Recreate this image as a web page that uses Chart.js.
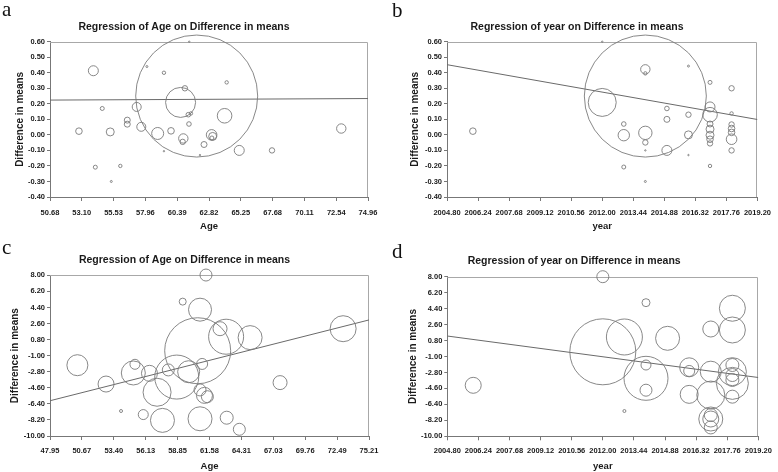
<!DOCTYPE html>
<html>
<head>
<meta charset="utf-8">
<script src="https://cdn.jsdelivr.net/npm/chart.js@4.4.1/dist/chart.umd.min.js"></script>
<style>
  html, body { margin:0; padding:0; background:#fff; }
  #wrap { position:relative; width:778px; height:472px; overflow:hidden; background:#fff; }
  canvas { position:absolute; }
  .lbl { position:absolute; font-family:"Liberation Serif","DejaVu Serif",serif; font-size:21px; line-height:21px; color:#111; }
</style>
</head>
<body>
<div id="wrap">
  <canvas id="ca" width="389" height="236" style="left:0;top:0"></canvas>
  <canvas id="cb" width="388" height="236" style="left:390px;top:0"></canvas>
  <canvas id="cc" width="389" height="236" style="left:0;top:236px"></canvas>
  <canvas id="cd" width="388" height="236" style="left:390px;top:236px"></canvas>
  <div class="lbl" style="left:2px;top:-1px">a</div>
  <div class="lbl" style="left:392px;top:0px">b</div>
  <div class="lbl" style="left:2px;top:237px">c</div>
  <div class="lbl" style="left:392px;top:241px">d</div>
</div>
<script>
// ---------- Data ----------
// Panel a: age vs difference in means (small scale)
const ageA  = [52.89, 53.99, 54.67, 54.14, 55.28, 55.36, 56.05, 56.58, 56.58, 57.30, 57.65, 58.08, 58.90, 59.38, 59.38, 59.92, 60.65, 61.88, 60.98, 61.31, 61.24, 61.44, 61.29, 60.86, 60.81, 62.13, 62.44, 63.02, 63.04, 63.10, 64.17, 64.01, 65.13, 67.63, 72.92];
const diffA = [0.024, 0.413, 0.17, -0.208, 0.019, -0.30, -0.20, 0.095, 0.069, 0.18, 0.052, 0.44, 0.009, 0.40, -0.105, 0.026, 0.209, 0.25, 0.30, 0.60, 0.13, 0.138, 0.07, -0.023, -0.045, -0.13, -0.062, 0.0, -0.02, -0.01, 0.338, 0.123, -0.10, -0.10, 0.041];
const wtA   = [3.3, 5, 2, 2, 4, 1, 1.7, 3, 3, 4.5, 4.5, 1, 6, 1.7, 0.7, 3.3, 15, 61, 2.7, 0.7, 2.3, 1.7, 2.3, 4.7, 2.7, 0.7, 3, 5.3, 2, 4, 1.7, 7.3, 5, 2.7, 4.7];
const regA  = [0.224, 0.234];

// Panel b: year vs difference in means (small scale)
const yearB = [2006, 2012, 2012, 2014, 2013, 2013, 2013, 2014, 2014, 2014, 2014, 2014, 2014, 2015, 2015, 2015, 2016, 2016, 2016, 2016, 2017, 2017, 2017, 2017, 2017, 2017, 2017, 2017, 2017, 2018, 2018, 2018, 2018, 2018, 2018, 2018];
const diffB = [0.024, 0.209, 0.60, 0.25, 0.07, -0.002, -0.207, 0.422, 0.396, 0.013, -0.049, -0.10, -0.30, 0.17, 0.10, -0.10, 0.443, 0.13, 0.0, -0.13, 0.338, 0.18, 0.13, 0.07, 0.037, -0.002, -0.028, -0.055, -0.20, 0.30, 0.138, 0.067, 0.041, 0.016, -0.028, -0.10];
const wtB   = [3.3, 14, 0.7, 61, 2.3, 5.7, 2, 4.7, 1.7, 6.7, 2.7, 0.7, 1, 2.3, 3, 5, 1, 2.7, 4, 0.7, 2, 5, 7.3, 3, 4, 4, 3.3, 2.7, 1.7, 2.7, 1.7, 2.7, 3.3, 3.3, 5.3, 2.7];
const regB  = [0.452, 0.099];

// Panel c: age vs difference in means (large scale)
const ageC  = [61.28, 59.29, 60.77, 62.48, 63.00, 65.05, 73.00, 60.57, 50.29, 52.74, 54.02, 55.21, 55.07, 55.92, 56.45, 57.10, 57.56, 58.06, 58.78, 59.80, 60.95, 60.77, 61.15, 61.40, 60.77, 63.05, 64.13, 67.61];
const diffC = [8.03, 5.05, 4.15, 2.02, 1.12, 1.02, 2.02, -0.45, -2.07, -4.18, -7.2, -1.97, -2.94, -7.6, -2.98, -5.1, -8.25, -2.6, -3.4, -2.8, -1.93, -4.84, -5.45, -5.6, -8.07, -7.95, -9.25, -4.02];
const wtC   = [6, 3.5, 11.5, 7, 17.5, 12, 13, 33, 10.5, 8, 1.5, 5, 12, 5, 8, 14, 12, 6, 22, 11, 5.5, 6, 8, 6, 12, 6.5, 6, 7];
const regC  = [-6.05, 3.0];

// Panel d: year vs difference in means (large scale)
const yearD = [2006, 2012, 2012, 2013, 2013, 2014, 2014, 2014, 2014, 2015, 2016, 2016, 2016, 2017, 2017, 2017, 2017, 2017, 2017, 2017, 2018, 2018, 2018, 2018, 2018, 2018, 2018, 2018];
const diffD = [-4.25, 8.0, -0.47, 1.2, -7.15, 5.07, -1.96, -3.46, -4.8, 1.05, -2.22, -2.63, -5.27, 2.1, -2.71, -5.35, -7.6, -8.05, -8.05, -9.0, 4.44, 1.99, -1.96, -2.71, -3.09, -3.65, -4.03, -5.53];
const wtD   = [8, 6, 33, 18, 1.5, 4, 5, 22, 6, 12, 9.5, 5.5, 9, 8, 10.5, 14, 6.5, 12, 8, 6.5, 13, 13, 6.5, 14, 6.5, 6.5, 16, 6.5];
const regD  = [1.31, -3.37];

// Tick labels
const xTicksAgeA  = ["50.68","53.10","55.53","57.96","60.39","62.82","65.25","67.68","70.11","72.54","74.96"];
const xTicksAgeC  = ["47.95","50.67","53.40","56.13","58.85","61.58","64.31","67.03","69.76","72.49","75.21"];
const xTicksYear  = ["2004.80","2006.24","2007.68","2009.12","2010.56","2012.00","2013.44","2014.88","2016.32","2017.76","2019.20"];
const yTicksSmall = ["0.60","0.50","0.40","0.30","0.20","0.10","0.00","-0.10","-0.20","-0.30","-0.40"];
const yTicksLarge = ["8.00","6.20","4.40","2.60","0.80","-1.00","-2.80","-4.60","-6.40","-8.20","-10.00"];

// ---------- Rendering ----------
const FONT = "'Liberation Sans', Arial, sans-serif";
const TXT = '#1a1a1a';

const framePlugin = {
  id: 'frame',
  beforeDatasetsDraw(chart) {
    const { ctx, chartArea: a } = chart;
    ctx.save();
    ctx.strokeStyle = '#a8a8a8';
    ctx.lineWidth = 1;
    ctx.beginPath();
    ctx.moveTo(a.left, Math.round(a.top) + 0.5);
    ctx.lineTo(Math.round(a.right) - 0.5, Math.round(a.top) + 0.5);
    ctx.lineTo(Math.round(a.right) - 0.5, a.bottom);
    ctx.stroke();
    ctx.restore();
  }
};

function makePanel(id, p) {
  const xVals = p.xLabels.map(Number);
  const yVals = p.yLabels.map(Number);
  const xMin = Math.min(...xVals), xMax = Math.max(...xVals);
  const yMin = Math.min(...yVals), yMax = Math.max(...yVals);
  const bubbles = p.xs.map((x, i) => ({ x: x, y: p.ys[i], r: p.ws[i] }));
  const xSorted = xVals.slice().sort((a, b) => a - b);
  const ySorted = yVals.slice().sort((a, b) => a - b);
  const xLab = xSorted.map(v => p.xLabels[xVals.indexOf(v)]);
  const yLab = ySorted.map(v => p.yLabels[yVals.indexOf(v)]);

  new Chart(document.getElementById(id), {
    data: {
      datasets: [
        {
          type: 'bubble',
          data: bubbles,
          backgroundColor: 'rgba(0,0,0,0)',
          borderColor: '#7a7a7a',
          borderWidth: 0.9,
          hoverBorderWidth: 0.9,
          clip: false
        },
        {
          type: 'line',
          data: [{ x: xMin, y: p.reg[0] }, { x: xMax, y: p.reg[1] }],
          borderColor: '#6a6a6a',
          borderWidth: 1,
          pointRadius: 0,
          fill: false
        }
      ]
    },
    options: {
      responsive: false,
      animation: false,
      devicePixelRatio: 1,
      layout: { autoPadding: false, padding: { left: 0, right: p.padRight, top: 0, bottom: 0 } },
      plugins: {
        legend: { display: false },
        tooltip: { enabled: false },
        title: {
          display: true,
          text: p.title,
          color: TXT,
          font: { family: FONT, size: 10.5, weight: 'bold', lineHeight: 1.2 },
          padding: { top: p.titleTop, bottom: p.titleBottom }
        }
      },
      scales: {
        x: {
          type: 'linear',
          position: 'bottom',
          min: xMin, max: xMax,
          afterBuildTicks: s => { s.ticks = xSorted.map(v => ({ value: v })); },
          afterFit: s => { s.height = p.xAxisH; },
          ticks: {
            autoSkip: false, maxRotation: 0, minRotation: 0,
            padding: p.xTickPad,
            color: TXT,
            font: { family: FONT, size: 7.5, weight: 'bold' },
            callback: (v, i) => xLab[i]
          },
          grid: { display: true, drawOnChartArea: false, drawTicks: true, tickLength: 4, color: '#777' },
          border: { display: true, color: '#777', width: 1 },
          title: {
            display: true, text: p.xTitle, color: TXT,
            font: { family: FONT, size: 9.5, weight: 'bold', lineHeight: 1.2 },
            padding: { top: 0, bottom: p.xTitlePad }
          }
        },
        y: {
          type: 'linear',
          position: 'left',
          min: yMin, max: yMax,
          afterBuildTicks: s => { s.ticks = ySorted.map(v => ({ value: v })); },
          afterFit: s => { s.width = p.yAxisW; },
          ticks: {
            autoSkip: false,
            padding: 2,
            color: TXT,
            font: { family: FONT, size: 7.5, weight: 'bold' },
            callback: (v, i) => yLab[i]
          },
          grid: { display: true, drawOnChartArea: false, drawTicks: true, tickLength: 3, color: '#777' },
          border: { display: true, color: '#777', width: 1 },
          title: {
            display: true, text: 'Difference in means', color: TXT,
            font: { family: FONT, size: 10, weight: 'bold', lineHeight: 1.2 },
            padding: { top: p.yTitlePad, bottom: 0 }
          }
        }
      }
    },
    plugins: [framePlugin]
  });
}

makePanel('ca', {
  title: 'Regression of Age on Difference in means', xTitle: 'Age',
  xs: ageA, ys: diffA, ws: wtA, reg: regA,
  xLabels: xTicksAgeA, yLabels: yTicksSmall,
  padRight: 21, titleTop: 20.4, titleBottom: 8.7, xAxisH: 39, xTickPad: 7, xTitlePad: 4, yAxisW: 50, yTitlePad: 14
});
makePanel('cb', {
  title: 'Regression of year on Difference in means', xTitle: 'year',
  xs: yearB, ys: diffB, ws: wtB, reg: regB,
  xLabels: xTicksYear, yLabels: yTicksSmall,
  padRight: 14, titleTop: 21, titleBottom: 8.1, xAxisH: 39, xTickPad: 7, xTitlePad: 4, yAxisW: 57, yTitlePad: 19
});
makePanel('cc', {
  title: 'Regression of Age on Difference in means', xTitle: 'Age',
  xs: ageC, ys: diffC, ws: wtC, reg: regC,
  xLabels: xTicksAgeC, yLabels: yTicksLarge,
  padRight: 20, titleTop: 17.7, titleBottom: 9, xAxisH: 36, xTickPad: 6, xTitlePad: 0, yAxisW: 50, yTitlePad: 9
});
makePanel('cd', {
  title: 'Regression of year on Difference in means', xTitle: 'year',
  xs: yearD, ys: diffD, ws: wtD, reg: regD,
  xLabels: xTicksYear, yLabels: yTicksLarge,
  padRight: 19.7, titleTop: 18.7, titleBottom: 9.4, xAxisH: 35.7, xTickPad: 6, xTitlePad: 0, yAxisW: 57.3, yTitlePad: 17.3
});
</script>
</body>
</html>
